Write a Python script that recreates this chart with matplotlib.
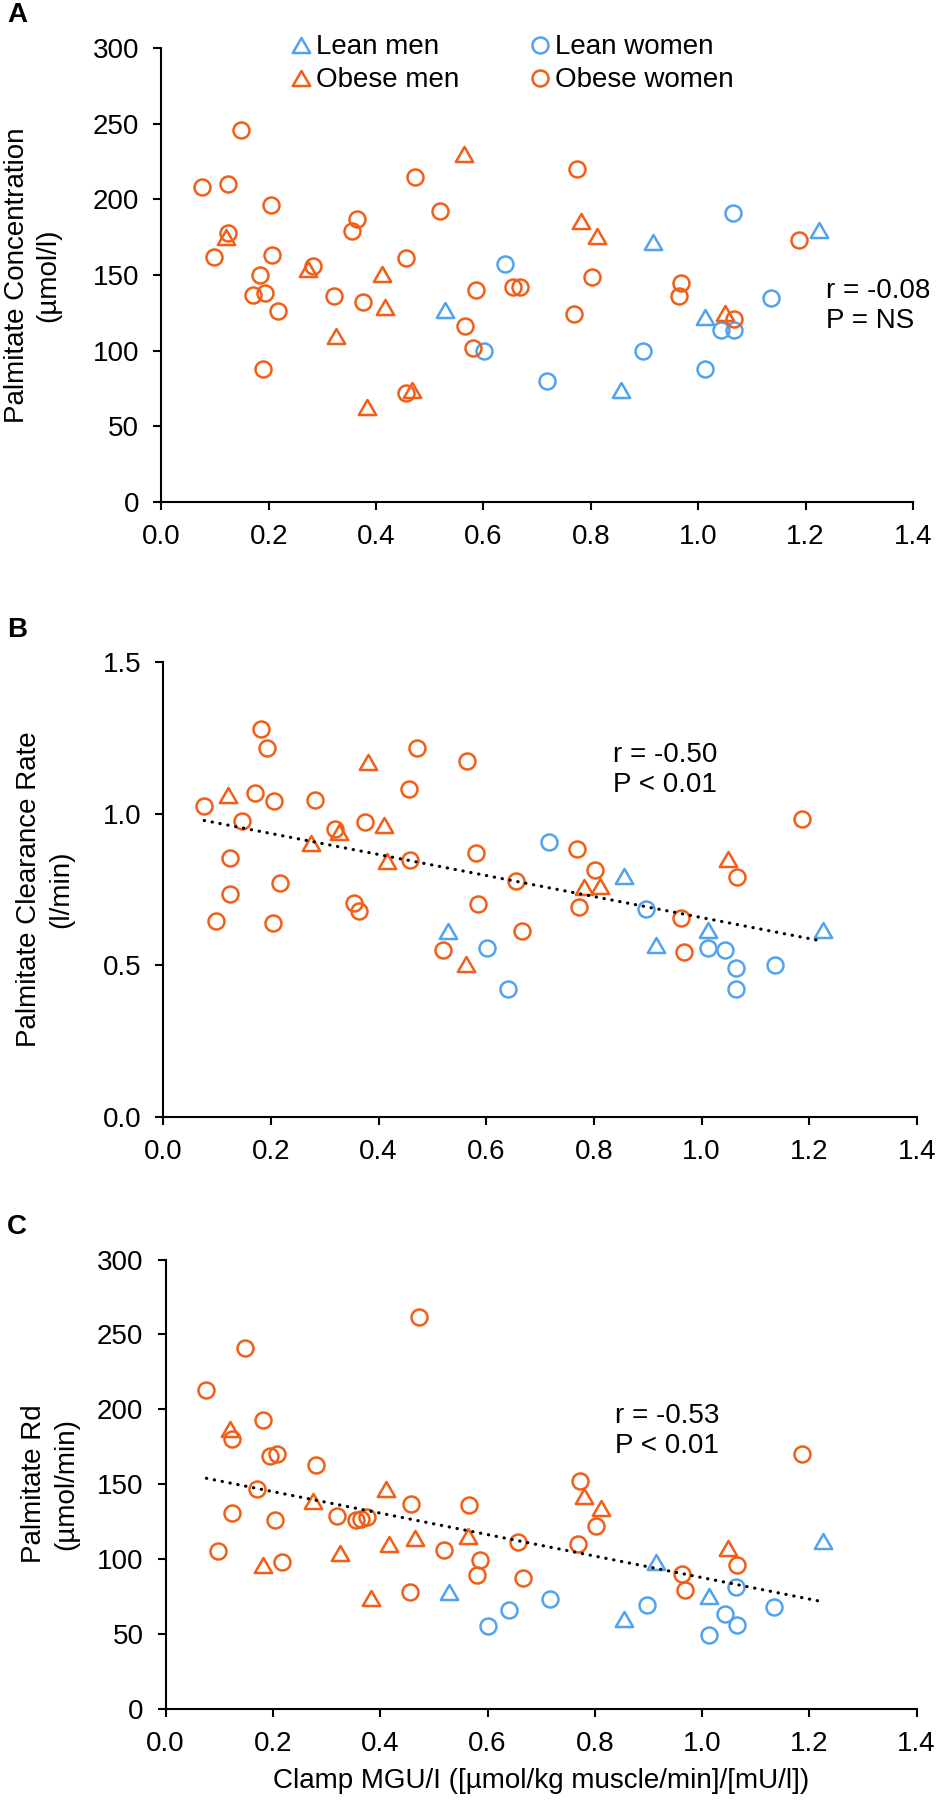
import numpy as np
import matplotlib
matplotlib.use("Agg")
import matplotlib.pyplot as plt
from matplotlib.path import Path

plt.rcParams['font.family'] = ['Liberation Sans', 'DejaVu Sans']

# ---- data (x = clamp MGU/I) ----
# panel A: palmitate concentration (umol/l)
a_lm_x = [0.529, 0.857, 0.916, 1.012, 1.225]
a_lm_y = [127, 74, 172, 122, 180]
a_lw_x = [0.602, 0.641, 0.718, 0.898, 1.012, 1.043, 1.065, 1.066, 1.136]
a_lw_y = [100, 157, 80, 100, 88, 114, 191, 114, 135]
a_om_x = [0.121, 0.274, 0.325, 0.383, 0.411, 0.417, 0.467, 0.564, 0.781, 0.812, 1.050]
a_om_y = [175, 154, 110, 63, 151, 129, 74, 230, 186, 176, 125]
a_ow_x = [0.076, 0.098, 0.124, 0.125, 0.148, 0.171, 0.183, 0.190, 0.194, 0.204, 0.207,
          0.217, 0.283, 0.321, 0.356, 0.365, 0.376, 0.456, 0.456, 0.473, 0.520, 0.565,
          0.581, 0.586, 0.655, 0.668, 0.769, 0.774, 0.803, 0.964, 0.968, 1.066, 1.188]
a_ow_y = [208, 162, 210, 178, 246, 137, 150, 88, 138, 196, 163,
          126, 156, 136, 179, 187, 132, 161, 72, 215, 192, 116,
          102, 140, 142, 142, 124, 220, 149, 136, 145, 121, 173]

# panel B: palmitate clearance rate (l/min)
b_lm_x = [0.528, 0.855, 0.915, 1.012, 1.225]
b_lm_y = [0.613, 0.794, 0.566, 0.617, 0.617]
b_lw_x = [0.602, 0.640, 0.717, 0.897, 1.012, 1.043, 1.064, 1.063, 1.136]
b_lw_y = [0.556, 0.421, 0.906, 0.687, 0.556, 0.551, 0.493, 0.424, 0.503]
b_om_x = [0.120, 0.274, 0.327, 0.381, 0.410, 0.416, 0.563, 0.781, 0.812, 1.049]
b_om_y = [1.063, 0.905, 0.940, 1.171, 0.963, 0.844, 0.506, 0.760, 0.763, 0.851]
b_ow_x = [0.076, 0.097, 0.123, 0.124, 0.147, 0.170, 0.182, 0.193, 0.203, 0.206, 0.217,
          0.282, 0.319, 0.355, 0.363, 0.375, 0.456, 0.458, 0.472, 0.519, 0.565, 0.580,
          0.585, 0.655, 0.667, 0.768, 0.773, 0.802, 0.962, 0.968, 1.066, 1.186]
b_ow_y = [1.025, 0.647, 0.855, 0.736, 0.977, 1.069, 1.278, 1.216, 0.641, 1.043, 0.770,
          1.046, 0.950, 0.706, 0.678, 0.973, 1.082, 0.848, 1.216, 0.550, 1.172, 0.872,
          0.704, 0.778, 0.613, 0.883, 0.693, 0.813, 0.655, 0.545, 0.792, 0.982]

# panel C: palmitate Rd (umol/min)
c_lm_x = [0.528, 0.855, 0.915, 1.012, 1.226]
c_lm_y = [78, 60, 98, 75, 112]
c_lw_x = [0.601, 0.640, 0.717, 0.898, 1.012, 1.043, 1.063, 1.065, 1.134]
c_lw_y = [55, 66, 73, 69, 49, 63, 81, 56, 68]
c_om_x = [0.120, 0.182, 0.275, 0.325, 0.383, 0.410, 0.417, 0.465, 0.563, 0.780, 0.812, 1.048]
c_om_y = [187, 96, 139, 104, 74, 147, 110, 114, 115, 142, 134, 107]
c_ow_x = [0.076, 0.098, 0.124, 0.124, 0.148, 0.170, 0.182, 0.194, 0.204, 0.207, 0.217,
          0.281, 0.320, 0.355, 0.364, 0.375, 0.456, 0.458, 0.473, 0.519, 0.565, 0.580,
          0.586, 0.656, 0.667, 0.768, 0.773, 0.802, 0.962, 0.968, 1.066, 1.186]
c_ow_y = [213, 105, 180, 131, 241, 147, 193, 169, 126, 170, 98,
          163, 129, 126, 127, 128, 78, 137, 262, 106, 136, 89,
          99, 111, 87, 110, 152, 122, 90, 79, 96, 170]

ylabels = ["Palmitate Concentration\n(µmol/l)", "Palmitate Clearance Rate\n(l/min)",
           "Palmitate Rd\n(µmol/min)"]
stats = ["r = -0.08\nP = NS", "r = -0.50\nP < 0.01", "r = -0.53\nP < 0.01"]
letters = ["A", "B", "C"]
xlabel = "Clamp MGU/I ([µmol/kg muscle/min]/[mU/l])"
xticks = [0.0, 0.2, 0.4, 0.6, 0.8, 1.0, 1.2, 1.4]

blue = "#52A3EE"
orange = "#F25E16"
tri = Path([(-1, -0.866), (1, -0.866), (0, 0.866), (-1, -0.866)], closed=True)

fig = plt.figure(figsize=(9.37, 18.0), dpi=100)
rects = [[0.1721, 0.7211, 0.8022, 0.2522],
         [0.1743, 0.3793, 0.8043, 0.2530],
         [0.1768, 0.0508, 0.8015, 0.2494]]
panels = [
    (a_lm_x, a_lm_y, a_lw_x, a_lw_y, a_om_x, a_om_y, a_ow_x, a_ow_y),
    (b_lm_x, b_lm_y, b_lw_x, b_lw_y, b_om_x, b_om_y, b_ow_x, b_ow_y),
    (c_lm_x, c_lm_y, c_lw_x, c_lw_y, c_om_x, c_om_y, c_ow_x, c_ow_y),
]
ylims = [(0, 300), (0, 1.5), (0, 300)]
yticks = [np.arange(0, 301, 50), [0.0, 0.5, 1.0, 1.5], np.arange(0, 301, 50)]
yfmt = ["{:.0f}", "{:.1f}", "{:.0f}"]
lab_x = [-0.171, -0.157, -0.154]
stat_pos = [(1.239, 129.7), (0.836, 1.144), (0.838, 185.6)]
letter_y = [15, 630, 1227]

for i in range(3):
    ax = fig.add_axes(rects[i])
    lmx, lmy, lwx, lwy, omx, omy, owx, owy = panels[i]
    kw = dict(ls="none", mfc="none", mew=1.8)
    h1, = ax.plot(lmx, lmy, marker=tri, ms=12.5, mec=blue, label="Lean men", **kw)
    h2, = ax.plot(lwx, lwy, marker="o", ms=11.5, mec=blue, label="Lean women", **kw)
    h3, = ax.plot(omx, omy, marker=tri, ms=12.5, mec=orange, label="Obese men", **kw)
    h4, = ax.plot(owx, owy, marker="o", ms=11.5, mec=orange, label="Obese women", **kw)

    if i > 0:
        allx = np.concatenate([lmx, lwx, omx, owx])
        ally = np.concatenate([lmy, lwy, omy, owy])
        k, b0 = np.polyfit(allx, ally, 1)
        xs = np.array([allx.min(), allx.max()])
        ax.plot(xs, k * xs + b0, color="black", lw=2.3, ls=(0, (0.1, 2.4)),
                dash_capstyle="round", zorder=5)

    ax.set_xlim(0, 1.4)
    ax.set_ylim(*ylims[i])
    ax.set_xticks(xticks)
    ax.set_xticklabels([f"{v:.1f}" for v in xticks])
    ax.set_yticks(yticks[i])
    ax.set_yticklabels([yfmt[i].format(v) for v in yticks[i]])
    for s in ["top", "right"]:
        ax.spines[s].set_visible(False)
    for s in ["left", "bottom"]:
        ax.spines[s].set_linewidth(1.5)
    ax.tick_params(direction="out", length=6, width=1.5, labelsize=20, pad=10)
    ax.set_ylabel(ylabels[i], fontsize=20, va="center", linespacing=1.3)
    ax.yaxis.set_label_coords(lab_x[i], 0.5)
    ax.text(stat_pos[i][0], stat_pos[i][1], stats[i], fontsize=20, ha="left", va="center",
            linespacing=1.2)
    fig.text(17 / 937, 1 - letter_y[i] / 1800, letters[i], fontsize=20, fontweight="bold",
             ha="center", va="center")

    if i == 0:
        ax.legend([h1, h3, h2, h4], ["Lean men", "Obese men", "Lean women", "Obese women"],
                  ncol=2, loc="upper left", bbox_to_anchor=(0.171, 1.03), frameon=False,
                  fontsize=20, handlelength=0.8, handletextpad=0.15, columnspacing=2.5,
                  labelspacing=0.25, borderpad=0, borderaxespad=0)
    if i == 2:
        ax.set_xlabel(xlabel, fontsize=20, labelpad=8)

fig.savefig("out.png", dpi=100)
